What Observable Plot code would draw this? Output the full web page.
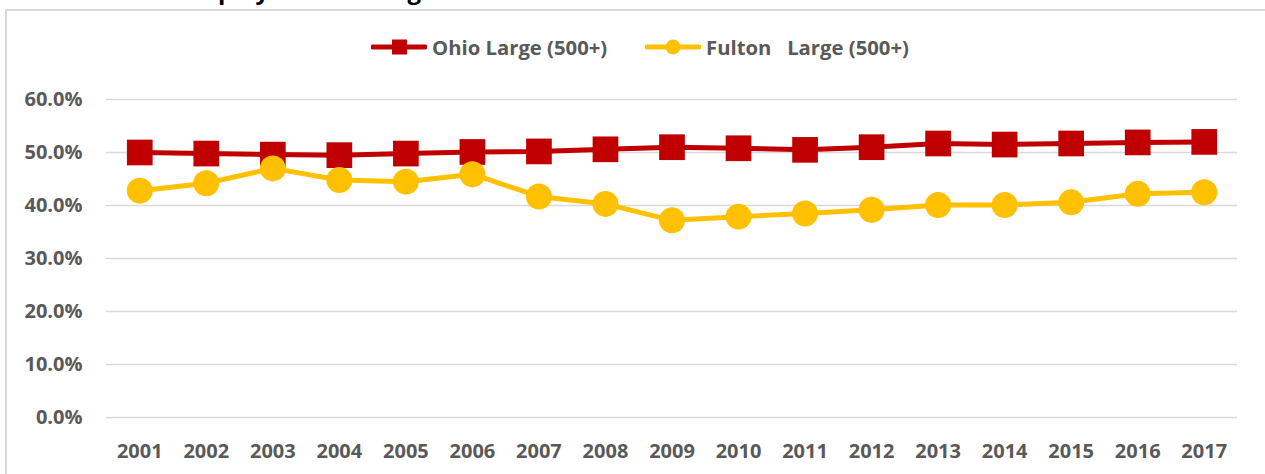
<!DOCTYPE html>
<html>
<head>
<meta charset="utf-8">
<script src="https://cdn.jsdelivr.net/npm/d3@7"></script>
<script src="https://cdn.jsdelivr.net/npm/@observablehq/plot@0.6"></script>
<style>
  html, body { margin: 0; padding: 0; background: #fff; }
  body { width: 1265px; height: 474px; overflow: hidden; position: relative; font-family: "Open Sans", sans-serif; }
  #frame { position: absolute; left: 5px; top: 9px; width: 1400px; height: 600px;
           border-left: 2px solid #d9d9d9; border-top: 2px solid #d9d9d9; box-sizing: border-box; }
  #title { position: absolute; left: 181px; top: -22px; font-size: 24px; line-height: 24px;
           font-weight: bold; color: #000; white-space: nowrap; }
  #legend { position: relative; height: 79px; }
  .item { position: absolute; top: 33px; height: 28px; display: flex; align-items: center;
          font-size: 20.3px; font-weight: bold; color: #595959; white-space: pre; }
  .item svg { margin-right: 5px; }
  #chart { position: relative; }
</style>
</head>
<body>
<div id="frame"></div>
<div id="title">Employment in Large Establishments</div>
<div id="legend"></div>
<div id="chart"></div>
<script>
const years = ["2001","2002","2003","2004","2005","2006","2007","2008","2009","2010","2011","2012","2013","2014","2015","2016","2017"];
const ohio   = [50.0, 49.8, 49.6, 49.5, 49.8, 50.1, 50.2, 50.6, 51.0, 50.8, 50.5, 51.0, 51.7, 51.5, 51.7, 51.9, 52.0];
const fulton = [42.8, 44.2, 47.0, 44.8, 44.5, 45.9, 41.7, 40.3, 37.2, 37.9, 38.5, 39.2, 40.1, 40.1, 40.6, 42.2, 42.5];
const seriesNames = ["Ohio Large (500+)", "Fulton   Large (500+)"];
const colors = ["#C00000", "#FFC000"];
const yTicks = [0, 10, 20, 30, 40, 50, 60];

const ohioData = years.map((y, i) => ({year: y, value: ohio[i]}));
const fultonData = years.map((y, i) => ({year: y, value: fulton[i]}));

// legend
const legend = document.getElementById("legend");
const legendPos = [371, 645];
seriesNames.forEach((name, i) => {
  const item = document.createElement("div");
  item.className = "item";
  item.style.left = legendPos[i] + "px";
  const marker = i === 0
    ? `<rect x="21" y="6.5" width="15" height="15" fill="${colors[i]}"/>`
    : `<circle cx="28" cy="14" r="7.5" fill="${colors[i]}"/>`;
  item.innerHTML = `<svg width="56" height="28"><line x1="2" x2="54" y1="14" y2="14" stroke="${colors[i]}" stroke-width="5" stroke-linecap="round"/>${marker}</svg><span>${name}</span>`;
  legend.appendChild(item);
});

const chart = Plot.plot({
  width: 1265,
  height: 395,
  marginTop: 20,
  marginBottom: 57,
  marginLeft: 106,
  marginRight: 28,
  style: {fontFamily: "Open Sans", fontSize: "20px", fontWeight: "bold", color: "#595959", background: "transparent", overflow: "visible"},
  x: {type: "point", domain: years, padding: 0.5, round: false},
  y: {domain: [0, 60]},
  marks: [
    Plot.ruleY(yTicks, {stroke: "#d9d9d9", strokeWidth: 1.5}),
    Plot.axisY({ticks: yTicks, tickFormat: d => d.toFixed(1) + "%", tickSize: 0, tickPadding: 24, label: null}),
    Plot.axisX({tickSize: 0, tickPadding: 26, label: null}),
    Plot.line(ohioData, {x: "year", y: "value", stroke: colors[0], strokeWidth: 5}),
    Plot.dot(ohioData, {x: "year", y: "value", symbol: "square", r: 14.5, fill: colors[0], stroke: "none"}),
    Plot.line(fultonData, {x: "year", y: "value", stroke: colors[1], strokeWidth: 5}),
    Plot.dot(fultonData, {x: "year", y: "value", symbol: "circle", r: 13, fill: colors[1], stroke: "none"})
  ]
});
document.getElementById("chart").appendChild(chart);
</script>
</body>
</html>
